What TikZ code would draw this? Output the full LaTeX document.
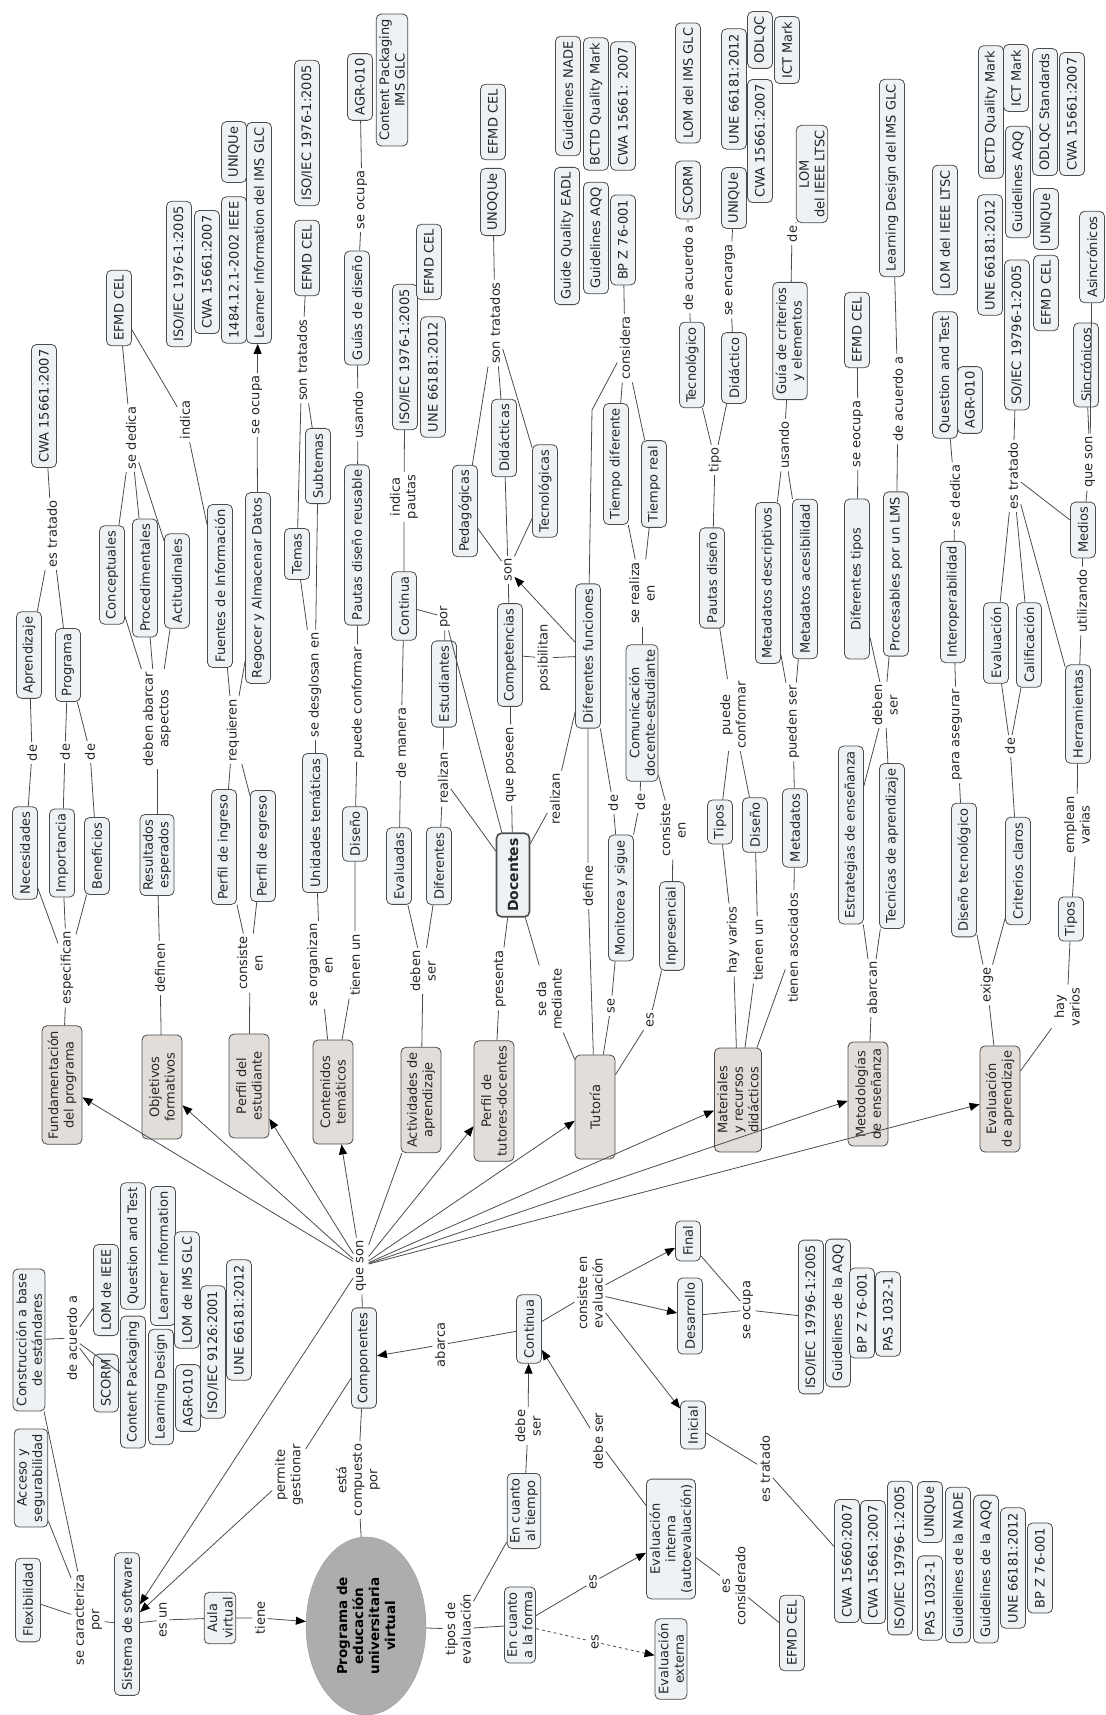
\documentclass[tikz,border=0pt]{standalone}
\usepackage{fontspec}
\setmainfont{DejaVu Sans}
\usetikzlibrary{arrows.meta,shapes.geometric}
\definecolor{cfill}{HTML}{EEF2F5}
\definecolor{tfill}{HTML}{E2DDD9}
\tikzset{
  every node/.style={rotate=90, text=black!85, font=\fontsize{13}{15.5}\selectfont},
  concept/.style={draw=black!70, fill=cfill, line width=0.8pt, rounded corners=5pt,
    align=center, inner xsep=5pt, inner ysep=3pt, minimum height=25pt},
  topic/.style={concept, fill=tfill, minimum height=40pt, minimum width=104pt},
  phrase/.style={inner sep=2.5pt, align=center},
  link/.style={draw=black!70, line width=0.8pt},
  arr/.style={link, -{Triangle[length=10pt,width=8pt,color=black]}}
}
\begin{document}
\begin{tikzpicture}[x=1pt,y=-1pt]
\useasboundingbox (0,0) rectangle (1105,1715);
% strip 1
\node[concept] (cwaA) at (44,406) {CWA 15661:2007};
\node[concept] (aprend) at (29,655) {Aprendizaje};
\node[concept] (progr) at (68,665) {Programa};
\node[concept] (neces) at (25,853) {Necesidades};
\node[concept] (import) at (62,853) {Importancia};
\node[concept] (benef) at (97,856) {Beneficios};
\node[phrase] (estratA) at (52,534) {es tratado};
\node[phrase] (deA) at (32,753) {de};
\node[phrase] (deB) at (65,752) {de};
\node[phrase] (deC) at (90,752) {de};
\node[phrase] (especif) at (67,968) {especifican};
\node[topic] (fundam) at (62,1085) {Fundamentación\\del programa};
\node[concept] (efmdA) at (119,308) {EFMD CEL};
\node[phrase] (dedicaA) at (131,438) {se dedica};
\node[phrase] (indica) at (185,420) {indica};
\node[concept] (concep) at (112,575) {Conceptuales};
\node[concept] (proced) at (145,578) {Procedimentales};
\node[concept] (actit) at (177,581) {Actitudinales};
\node[phrase] (abarcar) at (157,719) {deben abarcar\\aspectos};
\node[concept] (result) at (157,855) {Resultados\\esperados};
\node[phrase] (definen) at (160,968) {definen};
\node[topic] (objet) at (162,1087) {Objetivos\\formativos};
\node[concept] (isoA) at (179,274) {ISO/IEC 1976-1:2005};
\node[concept] (cwaB) at (207,272) {CWA 15661:2007};
\node[concept] (ieee) at (234,270) {1484.12.1-2002 IEEE};
\node[concept] (uniqA) at (234,152) {UNIQUe};
\node[concept] (learnIMS) at (259,233) {Learner Information del IMS GLC};
\node[phrase] (ocupaA) at (257,405) {se ocupa};
\node[concept] (fuentes) at (220,586) {Fuentes de Información};
\node[concept] (regocer) at (258,588) {Regocer y Almacenar Datos};
\node[phrase] (requieren) at (233,730) {requieren};
\node[concept] (pingreso) at (224,847) {Perfil de ingreso};
\node[concept] (pegreso) at (263,846) {Perfil de egreso};
\node[phrase] (consisteA) at (250,963) {consiste\\en};
\node[topic] (pestud) at (249,1086) {Perfil del\\estudiante};
% strip 2
\node[concept] (efmdB) at (307,258) {EFMD CEL};
\node[concept] (isoB) at (307,133) {ISO/IEC 1976-1:2005};
\node[phrase] (tratadosA) at (302,360) {son tratados};
\node[concept] (temas) at (297,554) {Temas};
\node[concept] (subtemas) at (318,466) {Subtemas};
\node[phrase] (desglosan) at (315,685) {se desglosan en};
\node[concept] (unidades) at (315,823) {Unidades temáticas};
\node[phrase] (organizan) at (320,965) {se organizan\\en};
\node[topic] (conten) at (333,1092) {Contenidos\\temáticos};
\node[concept] (guias) at (357,308) {Guías de diseño};
\node[phrase] (ocupaB) at (362,200) {se ocupa};
\node[concept] (agrA) at (360,87) {AGR-010};
\node[concept] (cpIMS) at (392,80) {Content Packaging\\IMS GLC};
\node[phrase] (usandoA) at (358,415) {usando};
\node[concept] (pautasR) at (357,545) {Pautas diseño reusable};
\node[phrase] (conformarA) at (358,703) {puede conformar};
\node[concept] (disenoA) at (355,834) {Diseño};
\node[phrase] (tienenA) at (355,965) {tienen un};
\node[concept] (isoC) at (405,357) {ISO/IEC 1976-1:2005};
\node[concept] (uneA) at (433,377) {UNE 66181:2012};
\node[concept] (efmdC) at (429,262) {EFMD CEL};
\node[phrase] (pautas) at (404,497) {indica\\pautas};
\node[concept] (contA) at (404,606) {Continua};
\node[phrase] (manera) at (401,743) {de manera};
\node[concept] (evaluadas) at (399,866) {Evaluadas};
\node[phrase] (por) at (445,617) {por};
\node[concept] (estud) at (444,684) {Estudiantes};
\node[phrase] (realizanA) at (443,778) {realizan};
\node[concept] (diferentes) at (439,866) {Diferentes};
\node[phrase] (debenA) at (423,971) {deben\\ser};
\node[topic] (activ) at (421,1100) {Actividades de\\aprendizaje};
% strip 3
\node[concept] (unoque) at (493,202) {UNOQUe};
\node[concept] (efmdD) at (493,122) {EFMD CEL};
\node[phrase] (tratadosB) at (495,323) {son tratados};
\node[concept] (pedag) at (465,511) {Pedagógicas};
\node[concept] (didac) at (504,438) {Didácticas};
\node[concept] (tecnol) at (545,491) {Tecnológicas};
\node[phrase] (son) at (508,570) {son};
\node[concept] (compet) at (510,655) {Competencias};
\node[phrase] (posib) at (544,658) {posibilitan};
\node[phrase] (poseen) at (511,765) {que poseen};
\node[concept, line width=1.6pt, font=\bfseries\fontsize{14}{16}\selectfont, minimum height=33pt] (docentes) at (513,875) {Docentes};
\node[phrase] (presenta) at (500,979) {presenta};
\node[topic] (ptutor) at (494,1101) {Perfil de\\tutores-docentes};
\node[phrase] (mediante) at (549,999) {se da\\mediante};
\node[concept] (gqeadl) at (567,236) {Guide Quality EADL};
\node[concept] (gnade) at (568,96) {Guidelines NADE};
\node[concept] (gaqqA) at (596,238) {Guidelines AQQ};
\node[concept] (bctdA) at (596,104) {BCTD Quality Mark};
\node[concept] (bpzA) at (623,240) {BP Z 76-001};
\node[concept] (cwaC) at (623,106) {CWA 15661: 2007};
\node[phrase] (considera) at (625,348) {considera};
\coordinate (kink) at (592,410);
\node[concept] (tdif) at (616,464) {Tiempo diferente};
\node[concept] (treal) at (654,484) {Tiempo real};
\node[phrase] (realizaen) at (642,593) {se realiza\\en};
\node[concept] (difunc) at (588,656) {Diferentes funciones};
\node[phrase] (realizanB) at (555,799) {realizan};
\node[concept] (comun) at (642,713) {Comunicación\\docente-estudiante};
\node[phrase] (deD) at (613,803) {de};
\node[phrase] (deE) at (640,802) {de};
\node[concept] (monit) at (621,898) {Monitorea y sigue};
\node[phrase] (define) at (588,886) {define};
\node[phrase] (se) at (611,1006) {se};
\node[topic] (tutoria) at (595,1107) {Tutoría};
\node[phrase] (consisteB) at (673,830) {consiste\\en};
\node[concept] (inpres) at (672,926) {Inpresencial};
\node[phrase] (esA) at (650,1020) {es};
% strip 4
\node[concept] (lomIMS) at (688,83) {LOM del IMS GLC};
\node[concept] (scormB) at (688,190) {SCORM};
\node[phrase] (acuerdoB) at (688,268) {de acuerdo a};
\node[concept] (tecnico) at (692,365) {Tecnológico};
\node[concept] (uneB) at (734,89) {UNE 66181:2012};
\node[concept] (uniqB) at (734,198) {UNIQUe};
\node[phrase] (encarga) at (730,280) {se encarga};
\node[concept] (didact) at (734,368) {Didáctico};
\node[concept] (cwaD) at (760,141) {CWA 15661:2007};
\node[concept] (odlqc) at (760,40) {ODLQC};
\node[concept] (ictA) at (787,50) {ICT Mark};
\node[phrase] (tipo) at (715,460) {tipo};
\node[concept] (pautasD) at (712,578) {Pautas diseño};
\node[phrase] (conformarB) at (733,715) {puede\\conformar};
\node[concept] (tiposA) at (720,822) {Tipos};
\node[concept] (disenoB) at (755,825) {Diseño};
\node[phrase] (variosA) at (733,940) {hay varios};
\node[phrase] (tienenB) at (758,950) {tienen un};
\node[topic] (mater) at (738,1100) {Materiales\\y recursos\\didácticos};
\node[concept] (guia) at (790,341) {Guía de criterios\\y elementos};
\node[phrase] (deF) at (792,234) {de};
\node[concept] (lomLTSC) at (812,174) {LOM\\del IEEE LTSC};
\node[phrase] (usandoB) at (784,445) {usando};
\node[concept] (metdesc) at (768,583) {Metadatos descriptivos};
\node[concept] (metacc) at (805,579) {Metadatos acesibilidad};
\node[phrase] (puedenser) at (793,722) {pueden ser};
\node[concept] (metad) at (795,828) {Metadatos};
\node[phrase] (asociados) at (793,948) {tienen asociados};
% strip 5
\node[concept] (efmdE) at (857,330) {EFMD CEL};
\node[phrase] (eocupa) at (858,434) {se eocupa};
\node[concept, minimum width=160pt] (diftipos) at (857,579) {Diferentes tipos};
\node[concept] (ldIMS) at (892,178) {Learning Design del IMS GLC};
\node[phrase] (acuerdoC) at (898,399) {de acuerdo a};
\node[concept] (proces) at (896,574) {Procesables por un LMS};
\node[phrase] (debenB) at (885,705) {deben\\ser};
\node[concept] (estrat) at (851,835) {Estrategias de enseñanza};
\node[concept] (tecnic) at (892,846) {Tecnicas de aprendizaje};
\node[phrase] (abarcan) at (872,988) {abarcan};
\node[topic] (metod) at (868,1094) {Metodologías\\de enseñanza};
\node[concept] (lomLTSCb) at (945,230) {LOM del IEEE LTSC};
\node[concept] (qtB) at (945,375) {Question and Test};
\node[concept] (agrB) at (970,400) {AGR-010};
\node[phrase] (dedicaB) at (955,496) {se dedica};
\node[concept] (interop) at (953,602) {Interoperabilidad};
\node[phrase] (asegurar) at (957,735) {para asegurar};
\node[concept] (disTec) at (964,870) {Diseño tecnológico};
\node[phrase] (exige) at (987,985) {exige};
\node[topic] (evalap) at (1000,1099) {Evaluación\\de aprendizaje};
\node[concept] (bctdB) at (991,112) {BCTD Quality Mark};
\node[concept] (uneC) at (990,255) {UNE 66181:2012};
\node[concept] (ictB) at (1016,78) {ICT Mark};
\node[concept] (gaqqB) at (1018,182) {Guidelines AQQ};
\node[concept] (soiec) at (1017,335) {SO/IEC 19796-1:2005};
\node[concept] (odlqcS) at (1045,112) {ODLQC Standards};
\node[concept] (uniqC) at (1046,219) {UNIQUe};
\node[concept] (efmdF) at (1046,293) {EFMD CEL};
\node[concept] (cwaE) at (1072,114) {CWA 15661:2007};
\node[phrase] (tratadoB) at (1013,476) {es tratado};
\node[concept] (evalS) at (996,643) {Evaluación};
\node[concept] (calif) at (1029,645) {Calificación};
\node[phrase] (deG) at (1010,746) {de};
\node[concept] (criter) at (1018,871) {Criterios claros};
\node[concept] (herram) at (1078,714) {Herramientas};
\node[phrase] (utiliz) at (1082,601) {utilizando};
\node[concept] (medios) at (1083,530) {Medios};
\node[phrase] (queSonB) at (1090,462) {que son};
\node[concept] (sincr) at (1086,365) {Sincrónicos};
\node[concept] (asincr) at (1092,257) {Asincrónicos};
\node[phrase] (emplean) at (1077,825) {emplean\\varias};
\node[concept] (tiposB) at (1071,919) {Tipos};
\node[phrase] (variosB) at (1067,1007) {hay\\varios};
% bottom part
\node[phrase] (queSon) at (361,1266) {que son};
\node[concept] (compon) at (364,1358) {Componentes};
\node[phrase] (compuesto) at (358,1480) {está\\compuesto\\por};
\node[ellipse, draw=black!40, fill=black!32, minimum width=178pt, minimum height=120pt, inner sep=0pt,
  align=center, text=black, font=\bfseries\fontsize{13.5}{16}\selectfont] (prog) at (366,1626)
  {Programa de\\educación\\universitaria\\virtual};
\node[phrase] (gestionar) at (289,1475) {permite\\gestionar};
\node[concept] (sistema) at (127,1624) {Sistema de software};
\node[phrase] (caracteriza) at (88,1620) {se caracteriza\\por};
\node[concept] (flex) at (28,1600) {Flexibilidad};
\node[concept] (acceso) at (31,1478) {Acceso y\\segurabilidad};
\node[concept] (constr) at (29,1340) {Construcción a base\\de estándares};
\node[phrase] (acuerdoA) at (72,1338) {de acuerdo a};
\node[concept] (scormA) at (106,1383) {SCORM};
\node[concept] (lomIEEE) at (106,1290) {LOM de IEEE};
\node[concept] (cpA) at (133,1382) {Content Packaging};
\node[concept] (qtA) at (133,1246) {Question and Test};
\node[concept] (ldA) at (161,1387) {Learning Design};
\node[concept] (liA) at (163,1256) {Learner Information};
\node[concept] (lomGLC) at (187,1290) {LOM de IMS GLC};
\node[concept] (agrC) at (188,1398) {AGR-010};
\node[concept] (iso9126) at (213,1352) {ISO/IEC 9126:2001};
\node[concept] (uneD) at (239,1320) {UNE 66181:2012};
\node[phrase] (esun) at (163,1620) {es un};
\node[concept] (aula) at (220,1618) {Aula\\virtual};
\node[phrase] (tiene) at (260,1618) {tiene};
\node[concept] (contB) at (529,1329) {Continua};
\node[phrase] (abarca) at (440,1345) {abarca};
\node[phrase] (evaluac) at (590,1293) {consiste en\\evaluación};
\node[concept] (final) at (688,1241) {Final};
\node[concept] (desarr) at (690,1316) {Desarrollo};
\node[concept] (inicial) at (693,1425) {Inicial};
\node[phrase] (ocupaC) at (748,1310) {se ocupa};
\node[concept] (isoD) at (811,1317) {ISO/IEC 19796-1:2005};
\node[concept] (gaqqC) at (838,1313) {Guidelines de la AQQ};
\node[concept] (bpzB) at (862,1313) {BP Z 76-001};
\node[concept] (pasA) at (888,1314) {PAS 1032-1};
\node[phrase] (tratadoC) at (765,1469) {es tratado};
\node[concept] (cwa60) at (847,1561) {CWA 15660:2007};
\node[concept] (cwaF) at (873,1562) {CWA 15661:2007};
\node[concept] (isoE) at (900,1558) {ISO/IEC 19796-1:2005};
\node[concept] (uniqD) at (930,1512) {UNIQUe};
\node[concept] (pasB) at (930,1598) {PAS 1032-1};
\node[concept] (gnadeB) at (958,1565) {Guidelines de la NADE};
\node[concept] (gaqqD) at (986,1569) {Guidelines de la AQQ};
\node[concept] (uneE) at (1013,1568) {UNE 66181:2012};
\node[concept] (bpzC) at (1040,1568) {BP Z 76-001};
\node[phrase] (tiposEv) at (458,1629) {tipos de\\evaluación};
\node[concept] (tiempo) at (524,1511) {En cuanto\\al tiempo};
\node[concept] (forma) at (520,1625) {En cuanto\\a la forma};
\node[phrase] (debeA) at (528,1426) {debe\\ser};
\node[phrase] (debeB) at (598,1441) {debe ser};
\node[phrase] (esB) at (593,1582) {es};
\node[phrase] (esC) at (595,1642) {es};
\node[concept] (interna) at (671,1539) {Evaluación\\interna\\(autoevaluación)};
\node[concept] (externa) at (671,1659) {Evaluación\\externa};
\node[phrase] (consid) at (734,1586) {es\\considerado};
\node[concept] (efmdG) at (792,1633) {EFMD CEL};
% links
\draw[link] (cwaA) -- (estratA);
\foreach \t in {aprend,progr} \draw[link] (estratA) -- (\t);
\draw[link] (neces) -- (deA) -- (aprend);
\draw[link] (import) -- (deB) -- (progr);
\draw[link] (benef) -- (deC) -- (progr);
\foreach \t in {neces,import,benef,fundam} \draw[link] (especif) -- (\t);
\draw[link] (efmdA) -- (dedicaA);
\foreach \t in {concep,proced,actit} \draw[link] (dedicaA) -- (\t);
\draw[link] (efmdA) -- (indica) -- (fuentes);
\foreach \t in {concep,proced,actit,result} \draw[link] (abarcar) -- (\t);
\draw[link] (result) -- (definen) -- (objet);
\draw[link] (regocer) -- (ocupaA);
\draw[arr] (ocupaA) -- (learnIMS);
\foreach \t in {fuentes,regocer,pingreso,pegreso} \draw[link] (requieren) -- (\t);
\foreach \t in {pingreso,pegreso,pestud} \draw[link] (consisteA) -- (\t);
\foreach \t in {efmdB,temas,subtemas} \draw[link] (tratadosA) -- (\t);
\foreach \t in {temas,subtemas,unidades} \draw[link] (desglosan) -- (\t);
\draw[link] (unidades) -- (organizan) -- (conten);
\draw[link] (guias) -- (ocupaB) -- (agrA);
\draw[link] (pautasR) -- (usandoA) -- (guias);
\draw[link] (pautasR) -- (conformarA) -- (disenoA);
\draw[link] (disenoA) -- (tienenA) -- (conten);
\draw[link] (contA) -- (pautas) -- (isoC);
\draw[link] (contA) -- (manera) -- (evaluadas);
\draw[link] (contA) -- (por) -- (estud);
\draw[link] (por) -- (docentes);
\draw[link] (estud) -- (realizanA) -- (diferentes);
\draw[link] (realizanA) -- (docentes);
\foreach \t in {evaluadas,diferentes,activ} \draw[link] (debenA) -- (\t);
\draw[link] (docentes) -- (poseen) -- (compet) -- (son);
\draw[arr] (difunc) -- (son);
\foreach \t in {pedag,didac,tecnol} \draw[link] (son) -- (\t);
\foreach \t in {unoque,pedag,didac,tecnol} \draw[link] (tratadosB) -- (\t);
\draw[link] (compet) -- (posib) -- (difunc);
\draw[link] (difunc) -- (realizanB) -- (docentes);
\draw[link] (docentes) -- (presenta) -- (ptutor);
\draw[link] (docentes) -- (mediante) -- (tutoria);
\foreach \t in {bpzA,tdif,treal} \draw[link] (considera) -- (\t);
\draw[link] (considera) -- (kink) -- (difunc);
\foreach \t in {comun,tdif,treal} \draw[link] (realizaen) -- (\t);
\draw[link] (difunc) -- (deD) -- (monit);
\draw[link] (comun) -- (deE) -- (monit);
\draw[link] (comun) -- (consisteB) -- (inpres);
\draw[link] (difunc) -- (define) -- (tutoria);
\draw[link] (monit) -- (se) -- (tutoria);
\draw[link] (inpres) -- (esA) -- (tutoria);
\foreach \t in {pautasD,tecnico,didact} \draw[link] (tipo) -- (\t);
\draw[link] (tecnico) -- (acuerdoB) -- (scormB);
\draw[link] (didact) -- (encarga) -- (uniqB);
\foreach \t in {pautasD,tiposA,disenoB} \draw[link] (conformarB) -- (\t);
\draw[link] (tiposA) -- (variosA) -- (mater);
\draw[link] (disenoB) -- (tienenB) -- (mater);
\draw[link] (metad) -- (asociados) -- (mater);
\foreach \t in {metdesc,metacc,metad} \draw[link] (puedenser) -- (\t);
\foreach \t in {metdesc,metacc,guia} \draw[link] (usandoB) -- (\t);
\draw[link] (guia) -- (deF) -- (lomLTSC);
\draw[link] (efmdE) -- (eocupa) -- (diftipos);
\draw[link] (ldIMS) -- (acuerdoC) -- (proces);
\foreach \t in {diftipos,proces,estrat,tecnic} \draw[link] (debenB) -- (\t);
\foreach \t in {estrat,tecnic,metod} \draw[link] (abarcan) -- (\t);
\draw[link] (qtB) -- (dedicaB) -- (interop);
\draw[link] (interop) -- (asegurar) -- (disTec);
\foreach \t in {disTec,criter,evalap} \draw[link] (exige) -- (\t);
\foreach \t in {evalS,calif,criter} \draw[link] (deG) -- (\t);
\foreach \t in {soiec,evalS,calif,herram,medios} \draw[link] (tratadoB) -- (\t);
\draw[link] (herram) -- (utiliz) -- (medios) -- (queSonB);
\foreach \t in {sincr,asincr} \draw[link] (queSonB) -- (\t);
\draw[link] (herram) -- (emplean) -- (tiposB);
\draw[link] (tiposB) -- (variosB) -- (evalap);
\draw[link] (compon) -- (queSon);
\foreach \t in {fundam,objet,pestud,conten,ptutor,tutoria,mater,metod,evalap,sistema} \draw[arr] (queSon) -- (\t);
\draw[link] (queSon) -- (activ);
\draw[link] (prog) -- (compuesto) -- (compon);
\draw[link] (compon) -- (gestionar);
\draw[arr] (gestionar) -- (sistema);
\foreach \t in {sistema,flex,acceso,constr} \draw[link] (caracteriza) -- (\t);
\draw[link] (constr) -- (acuerdoA);
\foreach \t in {scormA,lomIEEE,cpA} \draw[link] (acuerdoA) -- (\t);
\draw[link] (sistema) -- (esun) -- (aula) -- (tiene);
\draw[arr] (tiene) -- (prog);
\draw[link] (contB) -- (abarca);
\draw[arr] (abarca) -- (compon);
\draw[link] (contB) -- (evaluac);
\foreach \t in {final,desarr,inicial} \draw[arr] (evaluac) -- (\t);
\foreach \t in {final,desarr,isoD} \draw[link] (ocupaC) -- (\t);
\draw[link] (inicial) -- (tratadoC) -- (cwa60);
\draw[link] (prog) -- (tiposEv);
\foreach \t in {forma,tiempo} \draw[link] (tiposEv) -- (\t);
\draw[link] (tiempo) -- (debeA);
\draw[arr] (debeA) -- (contB);
\draw[link] (interna) -- (debeB);
\draw[arr] (debeB) -- (contB);
\draw[link] (forma) -- (esB);
\draw[arr] (esB) -- (interna);
\draw[link, dashed] (forma) -- (esC);
\draw[arr, dashed] (esC) -- (externa);
\draw[link] (interna) -- (consid) -- (efmdG);
\end{tikzpicture}
\end{document}
